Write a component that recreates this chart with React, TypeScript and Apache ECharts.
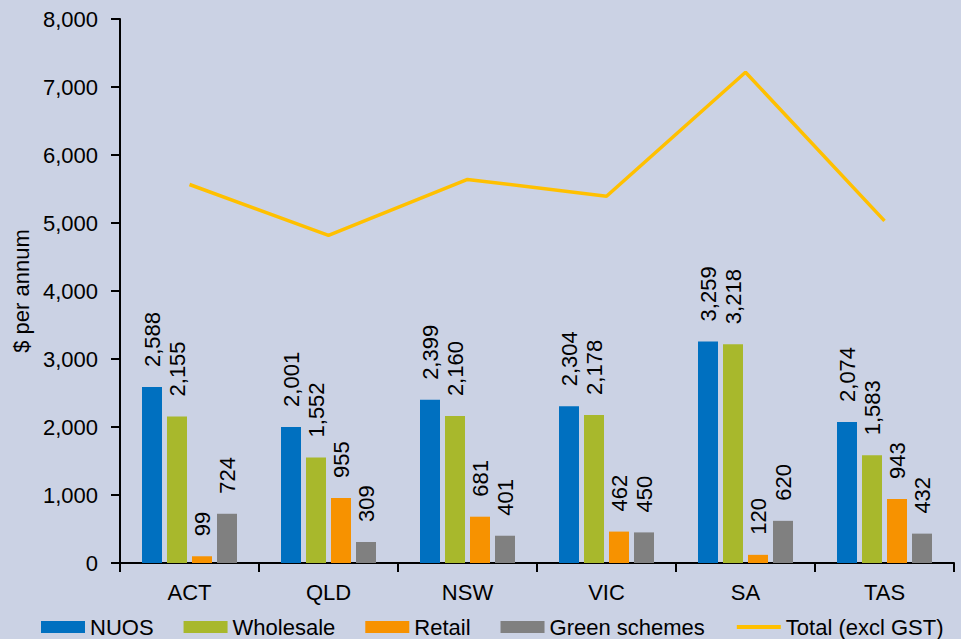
import React, { useEffect, useRef } from "react";
import * as echarts from "echarts";

const categories = ["ACT", "QLD", "NSW", "VIC", "SA", "TAS"];
const nuos = [2588, 2001, 2399, 2304, 3259, 2074];
const wholesale = [2155, 1552, 2160, 2178, 3218, 1583];
const retail = [99, 955, 681, 462, 120, 943];
const green = [724, 309, 401, 450, 620, 432];
const total = [5566, 4817, 5641, 5394, 7217, 5032];

const FONT = "'Liberation Sans', Arial, Helvetica, sans-serif";

export default function App() {
  const ref = useRef<HTMLDivElement>(null);
  useEffect(() => {
    if (!ref.current) return;
    const chart = echarts.init(ref.current, null, { renderer: "svg" });
    const barLabel = {
      show: true,
      position: "top",
      rotate: 90,
      align: "left",
      verticalAlign: "middle",
      distance: 20,
      color: "#000",
      fontSize: 22,
      fontFamily: FONT,
      formatter: (p: any) => Number(p.value).toLocaleString("en-US"),
    };
    const mkBar = (name: string, data: number[], color: string) => ({
      name,
      type: "bar",
      data,
      barWidth: 20,
      barGap: "25%",
      itemStyle: { color },
      label: barLabel,
    });
    chart.setOption({
      animation: false,
      backgroundColor: "#CBD2E4",
      textStyle: { fontFamily: FONT },
      grid: { left: 120, right: 7, top: 19, bottom: 76, containLabel: false },
      legend: {
        left: 36,
        top: 611,
        itemWidth: 44,
        itemHeight: 12,
        itemGap: 30,
        textStyle: { fontSize: 22, color: "#000", fontFamily: FONT },
        data: [
          { name: "NUOS", icon: "rect" },
          { name: "Wholesale", icon: "rect" },
          { name: "Retail", icon: "rect" },
          { name: "Green schemes", icon: "rect" },
          {
            name: "Total (excl GST)",
            itemStyle: { opacity: 0 },
            lineStyle: { width: 4, color: "#FFC000" },
          },
        ],
      },
      xAxis: {
        type: "category",
        data: categories,
        axisLine: { lineStyle: { color: "#000", width: 2 } },
        axisTick: { show: true, length: 9, lineStyle: { color: "#000", width: 2 } },
        axisLabel: { color: "#000", fontSize: 22, margin: 18, fontFamily: FONT },
      },
      yAxis: {
        type: "value",
        min: 0,
        max: 8000,
        interval: 1000,
        name: "$ per annum",
        nameLocation: "middle",
        nameGap: 87,
        nameTextStyle: { color: "#000", fontSize: 22, fontFamily: FONT },
        axisLine: { show: true, lineStyle: { color: "#000", width: 2 } },
        axisTick: { show: true, length: 9, lineStyle: { color: "#000", width: 2 } },
        splitLine: { show: false },
        axisLabel: {
          color: "#000",
          fontSize: 22,
          margin: 22,
          fontFamily: FONT,
          formatter: (v: number) => v.toLocaleString("en-US"),
        },
      },
      series: [
        mkBar("NUOS", nuos, "#0070C0"),
        mkBar("Wholesale", wholesale, "#A8B82C"),
        mkBar("Retail", retail, "#F79200"),
        mkBar("Green schemes", green, "#808080"),
        {
          name: "Total (excl GST)",
          type: "line",
          data: total,
          symbol: "none",
          lineStyle: { color: "#FFC000", width: 3.5 },
          itemStyle: { color: "#FFC000" },
        },
      ],
    });
    return () => chart.dispose();
  }, []);
  return (
    <div
      ref={ref}
      style={{ position: "fixed", left: 0, top: 0, width: 961, height: 639 }}
    />
  );
}
